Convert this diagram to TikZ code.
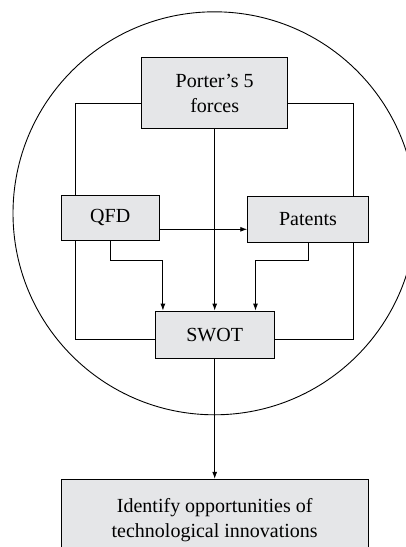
\documentclass[tikz,border=0pt]{standalone}
\usepackage{fontspec}
\setmainfont{Liberation Serif}
\usepackage{tikz}
\usetikzlibrary{calc}
\usetikzlibrary{arrows.meta}

\begin{document}
\begin{tikzpicture}[x=1pt, y=-1pt,
		box/.style={draw, line width=0.9pt, fill=boxgray, inner sep=0pt, align=center,
			font=\fontsize{20}{25}\selectfont},
		line/.style={line width=0.9pt},
		arr/.style={line width=0.9pt, -{Latex[length=7pt, width=5pt]}}]
			\definecolor{boxgray}{HTML}{E5E6E8}
			\useasboundingbox (0, 0) rectangle (406, 547);

			\draw[line width=0.9pt] (214.5, 213.3) circle (201.5pt);

			\node[box, minimum width=146pt, minimum height=71pt] (porter) at (214.7, 93.2) {Porter's 5\\forces};
			\node[box, minimum width=98.3pt, minimum height=45.7pt] (qfd) at (110.2, 217.8) {QFD};
			\node[box, minimum width=120.6pt, minimum height=45.6pt] (patents) at (308, 219.5) {Patents};
			\node[box, minimum width=119.3pt, minimum height=47.3pt] (swot) at (214.7, 334.7) {SWOT};
			\node[box, minimum width=307.3pt, minimum height=81pt] (ident) at (214.7, 519.8)
				{Identify opportunities of\\technological innovations};

			\draw[line] ([yshift=-10pt]porter.west) -| ([xshift=15pt]qfd.north west);
			\draw[line] ([yshift=-10pt]porter.east) -| ([xshift=-15.6pt]patents.north east);
			\draw[line] ([xshift=15pt]qfd.south west) |- ([yshift=-5pt]swot.west);
			\draw[line] ([xshift=-15.6pt]patents.south east) |- ([yshift=-5pt]swot.east);

			\draw[arr] (porter.south) -- (swot.north);
			\draw[arr] ([yshift=-11.5pt]qfd.east) -- ([yshift=-11.5pt]qfd.east -| patents.west);
			\draw[arr] (qfd.south) -- ++(0, 19.3) -| ([xshift=8.3pt]swot.north west);
			\draw[arr] (patents.south) -- ++(0, 17.7) -| ([xshift=-19.3pt]swot.north east);
			\draw[arr] (swot.south) -- (ident.north);
		\end{tikzpicture}
\end{document}
